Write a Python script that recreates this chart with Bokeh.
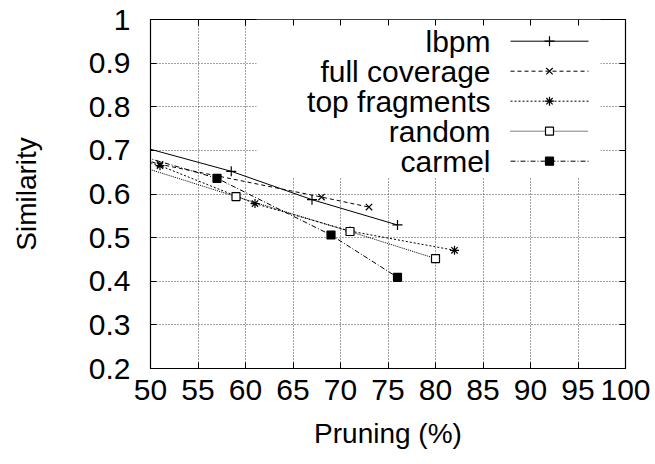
from bokeh.plotting import figure
from bokeh.models import (Range1d, FixedTicker, LinearAxis, BoxAnnotation)
from bokeh.core.properties import value
from bokeh.embed import file_html
from bokeh.resources import INLINE

# ---- data -------------------------------------------------------------
series_names = ["lbpm", "full coverage", "top fragments", "random", "carmel"]

lbpm_x = [0, 58.5, 67, 76]
lbpm_y = [1.0, 0.652, 0.587, 0.529]

full_x = [0, 51, 68, 73]
full_y = [1.0, 0.668, 0.593, 0.570]

top_x = [0, 51, 61, 71, 82]
top_y = [1.0, 0.665, 0.578, 0.515, 0.471]

random_x = [0, 59, 71, 80]
random_y = [1.0, 0.594, 0.514, 0.452]

carmel_x = [0, 57, 69, 76]
carmel_y = [1.0, 0.636, 0.506, 0.409]

x_ticks = [50, 55, 60, 65, 70, 75, 80, 85, 90, 95, 100]
y_ticks = [0.2, 0.3, 0.4, 0.5, 0.6, 0.7, 0.8, 0.9, 1.0]
y_tick_labels = ["0.2", "0.3", "0.4", "0.5", "0.6", "0.7", "0.8", "0.9", "1"]

# ---- figure -----------------------------------------------------------
FONT = "Liberation Sans"
FS = "30px"
FS_AXIS = "28px"
X0, X1, Y0, Y1 = 50, 100, 0.2, 1.0
W, H = 655, 464
ML, MR, MT, MB = 150, 30, 19, 96
FW, FH = W - ML - MR, H - MT - MB

p = figure(width=W, height=H, output_backend="svg", toolbar_location=None,
           x_range=Range1d(X0, X1), y_range=Range1d(Y0, Y1),
           min_border_left=ML, min_border_right=MR,
           min_border_top=MT, min_border_bottom=MB,
           x_axis_label="Pruning (%)", y_axis_label="Similarity")
p.background_fill_color = "white"
p.border_fill_color = "white"
p.outline_line_color = "black"
p.outline_line_width = 1.2


def px_to_x(px):
    return X0 + (px - ML) * (X1 - X0) / FW


def py_to_y(py):
    return Y1 - (py - MT) * (Y1 - Y0) / FH


# axes: inward ticks on all four sides
xt = FixedTicker(ticks=x_ticks)
yt = FixedTicker(ticks=y_ticks)
for ax in (p.xaxis[0], p.yaxis[0]):
    ax.major_tick_in = 6
    ax.major_tick_out = 0
    ax.minor_tick_line_color = None
    ax.axis_line_color = "black"
    ax.major_label_text_font = FONT
    ax.major_label_text_font_size = FS
    ax.major_label_text_color = "black"
    ax.axis_label_text_font = FONT
    ax.axis_label_text_font_size = FS_AXIS
    ax.axis_label_text_font_style = "normal"
    ax.axis_label_text_color = "black"
p.xaxis[0].ticker = xt
p.yaxis[0].ticker = yt
p.yaxis[0].major_label_overrides = {t: s for t, s in zip(y_ticks, y_tick_labels)}
p.xaxis[0].major_label_standoff = 11
p.yaxis[0].major_label_standoff = 20
p.xaxis[0].axis_label_standoff = 15
p.yaxis[0].axis_label_standoff = 44

for loc, tk in (("above", xt), ("right", yt)):
    ax = LinearAxis(ticker=tk, major_tick_in=6, major_tick_out=0,
                    minor_tick_line_color=None, axis_line_color=None,
                    major_label_text_font_size="0px", major_label_standoff=0)
    p.add_layout(ax, loc)

# dotted grid
p.xgrid.ticker = xt
p.ygrid.ticker = yt
for g in (p.xgrid[0], p.ygrid[0]):
    g.grid_line_color = "#444444"
    g.grid_line_dash = "1 2"
    g.grid_line_width = 1

# opaque key area hides the grid behind the legend
p.add_layout(BoxAnnotation(left=px_to_x(256), right=px_to_x(600),
                           top=Y1, bottom=py_to_y(177),
                           fill_color="white", fill_alpha=1.0,
                           line_color=None, level="underlay"))

# ---- series -----------------------------------------------------------
styles = [
    (lbpm_x, lbpm_y, "solid", "cross", "black", 10, "black"),
    (full_x, full_y, "4 3", "x", "black", 9, "black"),
    (top_x, top_y, "2 2", "asterisk", "black", 9, "black"),
    (random_x, random_y, "1 1", "square", "black", 8, "white"),
    (carmel_x, carmel_y, "5 2 1 2", "square", "black", 8, "black"),
]

for xs, ys, dash, marker, col, size, fill in styles:
    p.line(xs, ys, line_color=col, line_width=1, line_dash=dash)
    p.scatter(xs, ys, marker=marker, size=size, line_color=col,
              fill_color=fill, line_width=1.2)

# ---- key (labels on the left, samples on the right) -------------------
key_text_x = px_to_x(490)
key_x0, key_x1, key_xm = px_to_x(510), px_to_x(588), px_to_x(549)
row_py = [40.7 + 30 * i for i in range(len(series_names))]

for name, py, (xs, ys, dash, marker, col, size, fill) in zip(series_names, row_py, styles):
    yy = py_to_y(py)
    p.text(x=[key_text_x], y=[yy], text=[name], text_align="right",
           text_baseline="middle", text_font=value(FONT),
           text_font_size=FS, text_color="black")
    p.line([key_x0, key_x1], [yy, yy], line_color=col, line_width=1,
           line_dash=dash)
    p.scatter([key_xm], [yy], marker=marker, size=size, line_color=col,
              fill_color=fill, line_width=1.2)

open("out.html", "w").write(file_html(p, INLINE))
